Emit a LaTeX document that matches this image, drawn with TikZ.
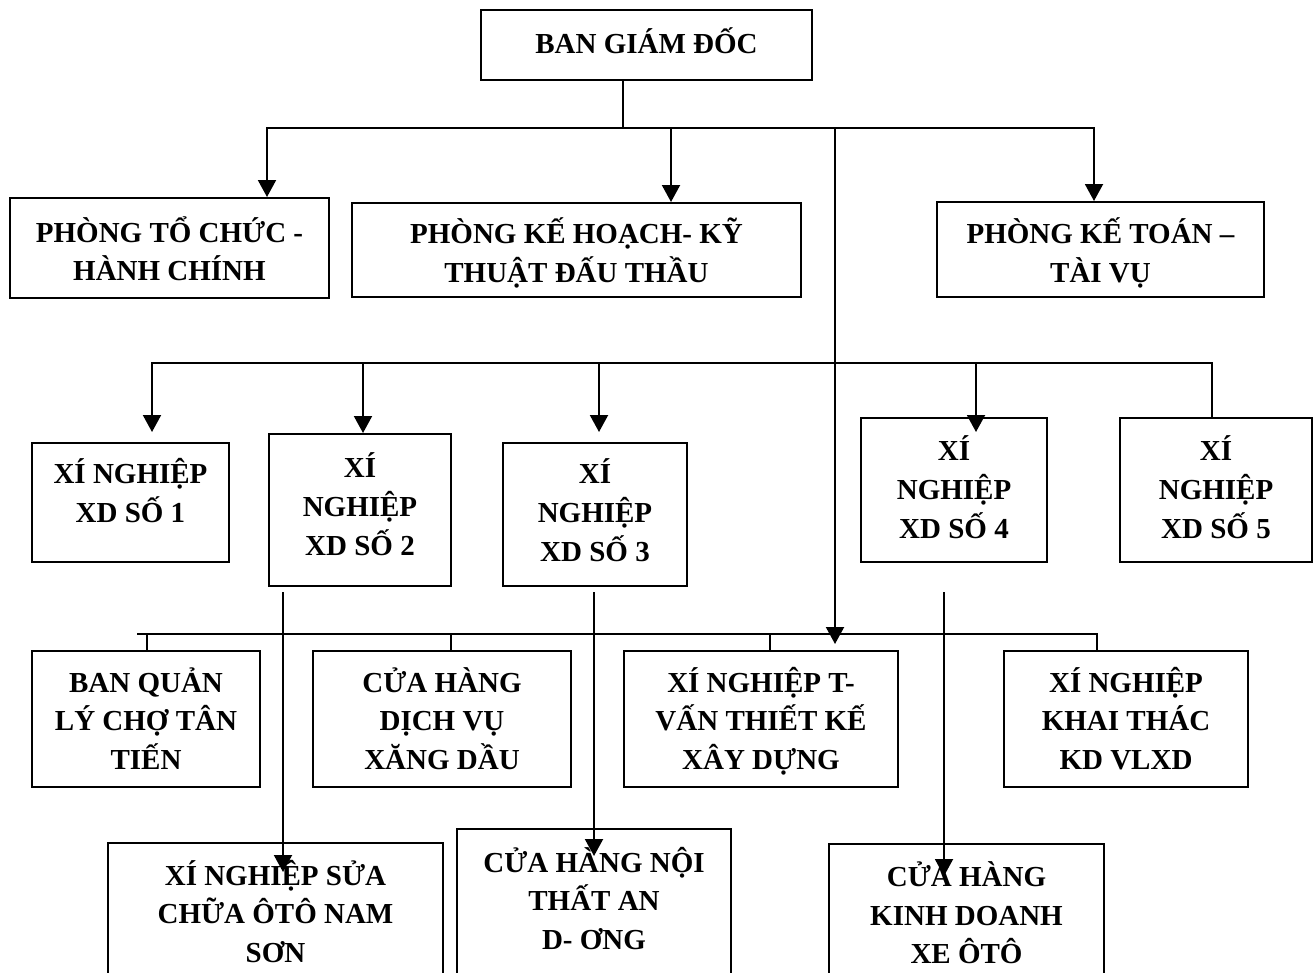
\documentclass[tikz,border=0pt]{standalone}
\usepackage{fontspec}
\setmainfont{Liberation Serif}
\usetikzlibrary{arrows.meta}
% #1: strut height above the first baseline, #2: strut depth below the last one
\newcommand{\boxlines}[3]{\rule{0pt}{#1pt}#3\rule[-#2pt]{0pt}{#2pt}}
\begin{document}
\begin{tikzpicture}[x=1pt,y=-1pt,
  box/.style={draw, line width=2pt, inner sep=0pt, align=center,
    font=\fontsize{29}{38.5}\selectfont\bfseries},
  wide/.style={font=\fontsize{29}{39}\selectfont\bfseries},
  conn/.style={line width=2pt, line cap=rect},
  arr/.style={line width=2pt, line cap=rect, -{Triangle[width=18pt,length=17pt]}}]
\useasboundingbox (0,0) rectangle (1316,972);
\clip (0,0) rectangle (1316,972);

% ---- board of directors ----
\node[box, minimum width=331, minimum height=70] (bgd) at (646.5,45)
  {\boxlines{30}{14}{BAN GIÁM ĐỐC}};

% ---- departments ----
\node[box, minimum width=319, minimum height=100] (p1) at (169.5,248)
  {\boxlines{36.5}{10}{PHÒNG TỔ CHỨC -\\HÀNH CHÍNH}};
\node[box, wide, minimum width=449, minimum height=94] (p2) at (576.5,250)
  {\boxlines{35}{10}{PHÒNG KẾ HOẠCH- KỸ\\THUẬT ĐẤU THẦU}};
\node[box, wide, minimum width=327, minimum height=95] (p3) at (1100.5,249.5)
  {\boxlines{36}{10}{PHÒNG KẾ TOÁN –\\TÀI VỤ}};

% ---- construction enterprises ----
\node[box, wide, minimum width=197, minimum height=119] (xd1) at (130.5,502.5)
  {\boxlines{30}{30}{XÍ NGHIỆP\\XD SỐ 1}};
\node[box, wide, minimum width=182, minimum height=152] (xd2) at (360,510)
  {\boxlines{30}{18}{XÍ\\NGHIỆP\\XD SỐ 2}};
\node[box, wide, minimum width=184, minimum height=143] (xd3) at (595,514.5)
  {\boxlines{30}{15}{XÍ\\NGHIỆP\\XD SỐ 3}};
\node[box, wide, minimum width=186, minimum height=144] (xd4) at (954,490)
  {\boxlines{30}{12}{XÍ\\NGHIỆP\\XD SỐ 4}};
\node[box, wide, minimum width=192, minimum height=144] (xd5) at (1216,490)
  {\boxlines{30}{12}{XÍ\\NGHIỆP\\XD SỐ 5}};

% ---- third row units ----
\node[box, minimum width=228, minimum height=136] (bq) at (146,719)
  {\boxlines{33}{10}{BAN QUẢN\\LÝ CHỢ TÂN\\TIẾN}};
\node[box, minimum width=258, minimum height=136] (ch) at (442,719)
  {\boxlines{33}{10}{CỬA HÀNG\\DỊCH VỤ\\XĂNG DẦU}};
\node[box, minimum width=274, minimum height=136] (tv) at (761,719)
  {\boxlines{33}{10}{XÍ NGHIỆP T-\\VẤN THIẾT KẾ\\XÂY DỰNG}};
\node[box, minimum width=244, minimum height=136] (kt) at (1126,719)
  {\boxlines{33}{10}{XÍ NGHIỆP\\KHAI THÁC\\KD VLXD}};

% ---- bottom row units ----
\node[box, minimum width=335, minimum height=147] (sc) at (275.5,916.5)
  {\boxlines{30}{16}{XÍ NGHIỆP SỬA\\CHỮA ÔTÔ NAM\\SƠN}};
\node[box, minimum width=274, minimum height=161] (nt) at (594,909.5)
  {\boxlines{30}{28}{CỬA HÀNG NỘI\\THẤT AN\\D- ƠNG}};
\node[box, minimum width=275, minimum height=146] (kd) at (966.5,917)
  {\boxlines{30}{14}{CỬA HÀNG\\KINH DOANH\\XE ÔTÔ}};

% ---- junction points ----
\coordinate (j0) at (623,128);
\coordinate (a1) at (267,128);
\coordinate (a2) at (671,128);
\coordinate (a3) at (1094,128);
\coordinate (k3) at (835,128);
\coordinate (c1) at (152,363);
\coordinate (c2) at (363,363);
\coordinate (c3) at (599,363);
\coordinate (c4) at (976,363);
\coordinate (c5) at (1212,363);
\coordinate (d0) at (138,634);
\coordinate (d1) at (147,634);
\coordinate (d2) at (451,634);
\coordinate (d3) at (770,634);
\coordinate (d4) at (1097,634);
\coordinate (s2) at (283,593);
\coordinate (s3) at (594,593);
\coordinate (s4) at (944,593);

% ---- first level ----
\draw[line width=1.3pt] (bgd.south -| j0) -- (j0);
\draw[conn] (a1) -- (a3);
\draw[arr] (a1) -- (a1 |- p1.north);
\draw[arr] (a2) -- (a2 |- p2.north);
\draw[arr] (a3) -- (a3 |- p3.north);
\draw[arr, shorten >=6pt] (k3) -- (k3 |- tv.north);

% ---- second level ----
\draw[conn] (c1) -- (c5);
\draw[arr, shorten >=10pt] (c1) -- (c1 |- xd1.north);
\draw[arr] (c2) -- (c2 |- xd2.north);
\draw[arr, shorten >=10pt] (c3) -- (c3 |- xd3.north);
\draw[arr, shorten >=-15pt] (c4) -- (c4 |- xd4.north);
\draw[conn] (c5) -- (c5 |- xd5.north);

% ---- third level ----
\draw[conn] (d0) -- (d4);
\draw[conn] (d1) -- (d1 |- bq.north);
\draw[conn] (d2) -- (d2 |- ch.north);
\draw[conn] (d3) -- (d3 |- tv.north);
\draw[conn] (d4) -- (d4 |- kt.north);

% ---- bottom level ----
\draw[arr, shorten >=-30pt] (s2) -- (s2 |- sc.north);
\draw[arr, shorten >=-28pt] (s3) -- (s3 |- nt.north);
\draw[arr, shorten >=-33pt] (s4) -- (s4 |- kd.north);
\end{tikzpicture}
\end{document}
